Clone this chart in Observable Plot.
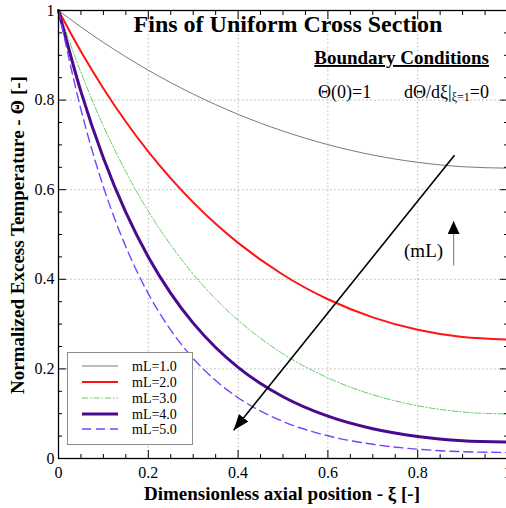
<!DOCTYPE html>
<html>
<head>
<meta charset="utf-8">
<script src="https://cdn.jsdelivr.net/npm/d3@7"></script>
<script src="https://cdn.jsdelivr.net/npm/@observablehq/plot@0.6"></script>
<style>
  html, body { margin: 0; padding: 0; background: #fff; }
  #chart { width: 506px; height: 508px; }
</style>
</head>
<body>
<div id="chart"></div>
<script>
// Dimensionless axial position along the fin
const xi = [0, 0.05, 0.1, 0.15, 0.2, 0.25, 0.3, 0.35, 0.4, 0.5, 0.6, 0.7, 0.8, 0.9, 1.0];

// Normalized excess temperature for each fin parameter mL
const theta1 = [1, 0.9632, 0.9287, 0.8966, 0.8667, 0.8390, 0.8134, 0.7898, 0.7682, 0.7308, 0.7006, 0.6774, 0.6611, 0.6513, 0.6481];
const theta2 = [1, 0.9085, 0.8260, 0.7517, 0.6851, 0.6253, 0.5717, 0.5238, 0.4813, 0.4102, 0.3555, 0.3151, 0.2874, 0.2711, 0.2658];
const theta3 = [1, 0.8616, 0.7423, 0.6400, 0.5520, 0.4765, 0.4116, 0.3562, 0.3087, 0.2337, 0.1799, 0.1423, 0.1178, 0.1038, 0.0993];
const theta4 = [1, 0.8189, 0.6706, 0.5492, 0.4499, 0.3687, 0.3022, 0.2478, 0.2035, 0.1378, 0.0944, 0.0663, 0.0490, 0.0396, 0.0366];
const theta5 = [1, 0.7789, 0.6066, 0.4725, 0.3680, 0.2866, 0.2233, 0.1740, 0.1357, 0.0826, 0.0507, 0.0317, 0.0208, 0.0152, 0.0135];

const seriesNames = ["mL=1.0", "mL=2.0", "mL=3.0", "mL=4.0", "mL=5.0"];
const seriesValues = [theta1, theta2, theta3, theta4, theta5];

// Axis ticks
const majorTicks = [0, 0.2, 0.4, 0.6, 0.8, 1];
const minorTicks = [0.05, 0.1, 0.15, 0.25, 0.3, 0.35, 0.45, 0.5, 0.55, 0.65, 0.7, 0.75, 0.85, 0.9, 0.95];
const gridTicks = [0.2, 0.4, 0.6, 0.8];

// Annotation arrows: increasing mL trend, and the small (mL) indicator
const trendArrow = [{x1: 0.882, y1: 0.677, x2: 0.390, y2: 0.063}];
const mlArrow = [{x1: 0.880, y1: 0.431, x2: 0.880, y2: 0.530}];
const mlLabel = [{x: 0.813, y: 0.463, text: "(mL)"}];

// Line styles per series
const styles = [
  {stroke: "#7a7a7a", strokeWidth: 1},
  {stroke: "#ff1414", strokeWidth: 2},
  {stroke: "#66cc66", strokeWidth: 1, strokeDasharray: "6,2,1.5,2"},
  {stroke: "#4a0a8c", strokeWidth: 3},
  {stroke: "#7a40ff", strokeWidth: 1.4, strokeDasharray: "9,5"}
];

const rows = seriesNames.map((name, s) =>
  xi.map((x, i) => ({xi: x, theta: seriesValues[s][i], series: name}))
);

const serif = "Liberation Serif, Times New Roman, serif";

const plot = Plot.plot({
  width: 506,
  height: 508,
  marginLeft: 58,
  marginRight: -1,
  marginTop: 10,
  marginBottom: 50,
  x: {domain: [0, 1], axis: null},
  y: {domain: [0, 1], axis: null},
  style: {fontFamily: serif, background: "white", color: "black", overflow: "visible"},
  marks: [
    Plot.gridX(gridTicks, {stroke: "#b4b4b4", strokeOpacity: 1, strokeDasharray: "1.5,2.5"}),
    Plot.gridY(gridTicks, {stroke: "#b4b4b4", strokeOpacity: 1, strokeDasharray: "1.5,2.5"}),
    ...rows.map((data, s) => Plot.line(data, {x: "xi", y: "theta", curve: "monotone-x", ...styles[s]})),
    Plot.link(trendArrow, {x1: "x1", y1: "y1", x2: "x2", y2: "y2", stroke: "black", strokeWidth: 1.6}),
    Plot.link(mlArrow, {x1: "x1", y1: "y1", x2: "x2", y2: "y2", stroke: "#888", strokeWidth: 1.2}),
    Plot.text(mlLabel, {x: "x", y: "y", text: "text", fontSize: 19, fontFamily: serif}),
    // tick labels
    Plot.axisX(majorTicks, {anchor: "bottom", tickSize: 0, tickPadding: 8, fontSize: 16, fontFamily: serif, label: null, tickFormat: d => String(d)}),
    Plot.axisY(majorTicks, {anchor: "left", tickSize: 0, tickPadding: 4, fontSize: 16, fontFamily: serif, label: null, tickFormat: d => String(d)}),
    // inward tick marks on every side
    Plot.axisX(majorTicks, {anchor: "bottom", tickSize: -8, fill: "none", label: null}),
    Plot.axisX(majorTicks, {anchor: "top", tickSize: -8, fill: "none", label: null}),
    Plot.axisX(minorTicks, {anchor: "bottom", tickSize: -4, fill: "none", label: null}),
    Plot.axisX(minorTicks, {anchor: "top", tickSize: -4, fill: "none", label: null}),
    Plot.axisY(majorTicks, {anchor: "left", tickSize: -8, fill: "none", label: null}),
    Plot.axisY(majorTicks, {anchor: "right", tickSize: -8, fill: "none", label: null}),
    Plot.axisY(minorTicks, {anchor: "left", tickSize: -4, fill: "none", label: null}),
    Plot.axisY(minorTicks, {anchor: "right", tickSize: -4, fill: "none", label: null}),
    Plot.frame({stroke: "black", strokeWidth: 1.3})
  ]
});

document.getElementById("chart").appendChild(plot);

const svg = d3.select(plot);

// Filled arrowheads on the two link marks (trend arrow first, then the mL indicator)
const defs = svg.append("defs");
function head(id, w, h) {
  defs.append("marker")
    .attr("id", id)
    .attr("viewBox", "0 0 10 10")
    .attr("refX", 10).attr("refY", 5)
    .attr("markerUnits", "userSpaceOnUse")
    .attr("markerWidth", w).attr("markerHeight", h)
    .attr("preserveAspectRatio", "none")
    .attr("orient", "auto")
    .append("path").attr("d", "M0,0L10,5L0,10Z").attr("fill", "black");
}
head("head-big", 16, 12);
head("head-small", 13, 12);
const linkGroups = svg.selectAll('g[aria-label="link"]').nodes();
if (linkGroups[0]) d3.select(linkGroups[0]).selectAll("path").attr("marker-end", "url(#head-big)");
if (linkGroups[1]) d3.select(linkGroups[1]).selectAll("path").attr("marker-end", "url(#head-small)");

// Titles and annotations
const ann = svg.append("g").attr("font-family", serif).attr("fill", "black").attr("text-anchor", "start");
ann.append("text")
  .attr("x", 288).attr("y", 32).attr("text-anchor", "middle")
  .attr("font-size", 24).attr("font-weight", "bold")
  .text("Fins of Uniform Cross Section");
ann.append("text")
  .attr("x", 489).attr("y", 64).attr("text-anchor", "end")
  .attr("font-size", 19).attr("font-weight", "bold")
  .attr("text-decoration", "underline")
  .text("Boundary Conditions");
ann.append("text")
  .attr("x", 318).attr("y", 98).attr("text-anchor", "start").attr("font-size", 18)
  .text("Θ(0)=1");
const bc = ann.append("text")
  .attr("x", 489).attr("y", 98).attr("text-anchor", "end").attr("font-size", 18);
bc.append("tspan").text("dΘ/dξ|");
bc.append("tspan").attr("font-size", 12).attr("dy", 3).text("ξ=1");
bc.append("tspan").attr("dy", -3).text("=0");

ann.append("text")
  .attr("x", 282).attr("y", 500).attr("text-anchor", "middle")
  .attr("font-size", 19).attr("font-weight", "bold")
  .text("Dimensionless axial position - ξ [-]");
ann.append("text")
  .attr("transform", "translate(24,235) rotate(-90)")
  .attr("text-anchor", "middle")
  .attr("font-size", 19).attr("font-weight", "bold")
  .text("Normalized Excess Temperature - Θ [-]");

// Legend
const legend = svg.append("g").attr("font-family", serif).attr("text-anchor", "start");
legend.append("rect")
  .attr("x", 67.5).attr("y", 352.5).attr("width", 125).attr("height", 92)
  .attr("fill", "white").attr("stroke", "#8c8c8c").attr("stroke-width", 1);
const rowY = [366, 382, 398, 414, 429];
seriesNames.forEach((name, s) => {
  const st = styles[s];
  legend.append("line")
    .attr("x1", 82).attr("x2", 118).attr("y1", rowY[s]).attr("y2", rowY[s])
    .attr("stroke", st.stroke).attr("stroke-width", st.strokeWidth)
    .attr("stroke-dasharray", st.strokeDasharray || null);
  legend.append("text")
    .attr("x", 132).attr("y", rowY[s]).attr("dy", "0.35em")
    .attr("font-size", 14).attr("fill", "black").attr("text-anchor", "start")
    .text(name);
});
</script>
</body>
</html>
